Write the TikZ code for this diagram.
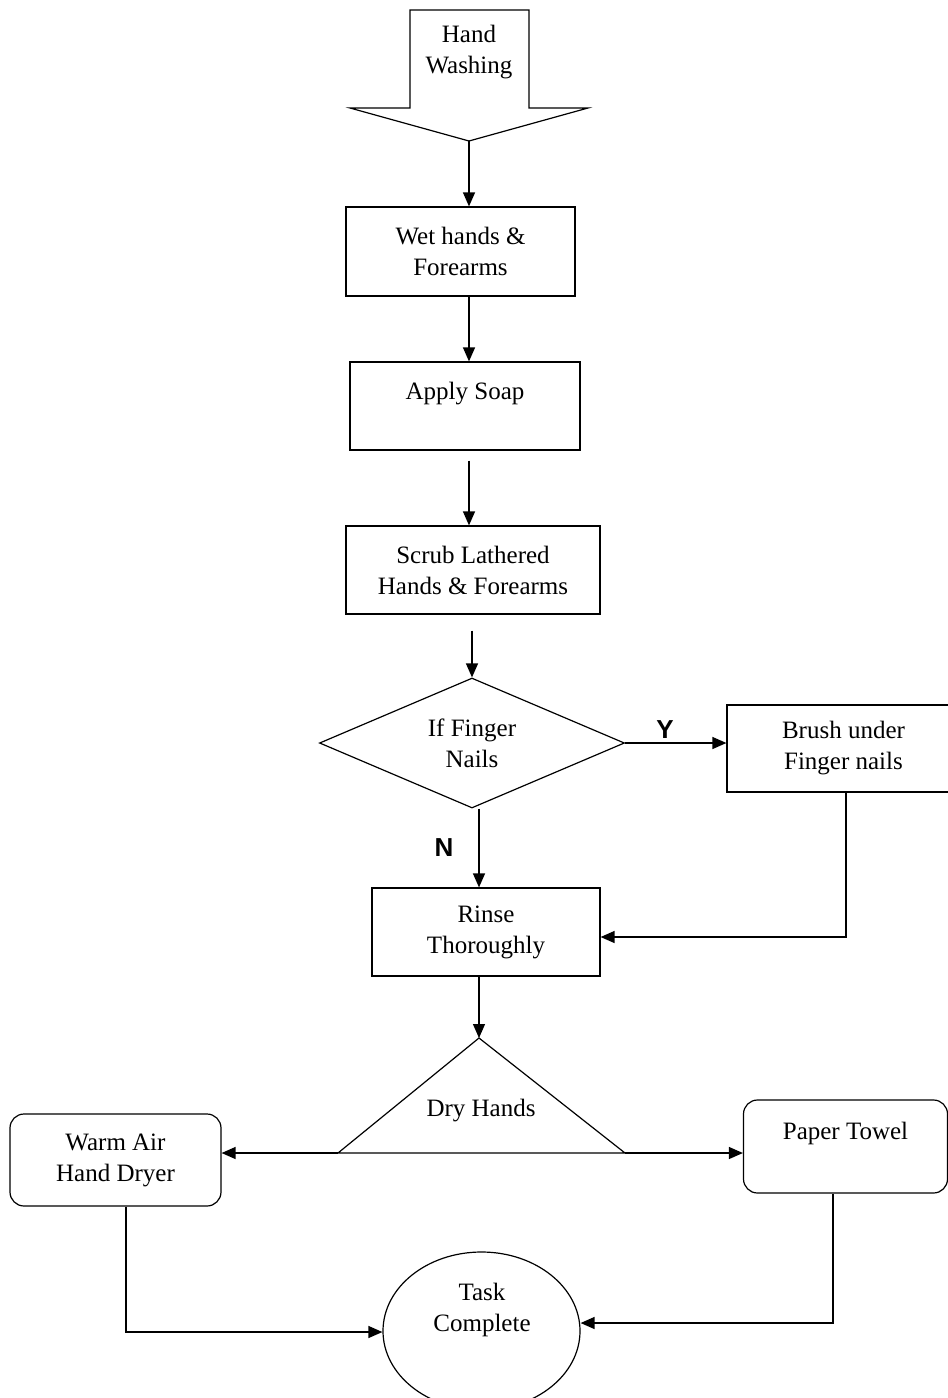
\documentclass[tikz,border=0pt]{standalone}
\usepackage{fontspec}
\setmainfont{Liberation Serif}
\newfontfamily\yn{Liberation Sans}
\usetikzlibrary{arrows.meta,shapes.geometric,calc}
\begin{document}
\begin{tikzpicture}[x=1pt,y=-1pt,
  every node/.style={font=\fontsize{25}{31}\selectfont, align=center, inner sep=0pt},
  shp/.style={draw, line width=1.2pt},
  boxr/.style={shp, rectangle},
  rbox/.style={shp, rectangle, rounded corners=14pt},
  arr/.style={line width=1.3pt, -{Triangle[length=14pt,width=12pt]}},
  ynlab/.style={font=\yn\bfseries\fontsize{26}{30}\selectfont}]
\clip (0,0) rectangle (948,1398);
\useasboundingbox (0,0) rectangle (948,1398);
% start block arrow
\draw[shp, line join=miter] (410,10) -- (529,10) -- (529,108) -- (588,108) -- (469,141) -- (350,108) -- (410,108) -- cycle;
\node (hw) at (469,52) {Hand\\Washing};
\coordinate (hwtip) at (469,141);
% boxes
\node[boxr, minimum width=229pt, minimum height=89pt] (wet) at (460.5,251.5) {Wet hands \&\\Forearms};
\node[boxr, minimum width=230pt, minimum height=88pt] (soap) at (465,406) {Apply Soap\\~};
\node[boxr, minimum width=254pt, minimum height=88pt] (scrub) at (473,570) {Scrub Lathered\\Hands \& Forearms};
\node[shp, diamond, aspect=2.35, minimum width=305pt, minimum height=130pt] (nails) at (472,743) {If Finger\\Nails};
\node[boxr, minimum width=233pt, minimum height=87pt] (brush) at (843.5,748.5) {Brush under\\Finger nails};
\node[boxr, minimum width=228pt, minimum height=88pt] (rinse) at (486,932) {Rinse\\Thoroughly};
% triangle
\coordinate (tapex) at (479,1038);
\coordinate (tleft) at (338,1153);
\coordinate (tright) at (625,1153);
\draw[shp, line join=miter] (tapex) -- (tright) -- (tleft) -- cycle;
\node (dry) at (481,1111) {Dry Hands};
\node[rbox, minimum width=211pt, minimum height=92pt] (warm) at (115.5,1160) {Warm Air\\Hand Dryer};
\node[rbox, minimum width=204pt, minimum height=93pt] (paper) at (845.5,1146.5) {Paper Towel\\~};
\node[shp, ellipse, minimum width=197pt, minimum height=158pt] (task) at (481.5,1331) {};
\node (tasktxt) at (482,1310) {Task\\Complete};
% labels
\node[ynlab] (ylab) at (665,730) {Y};
\node[ynlab] (nlab) at (444,848) {N};
% connectors
\draw[arr] (hwtip) -- (hwtip |- wet.north);
\draw[arr] (wet.south -| hwtip) -- (soap.north -| hwtip);
\draw[arr, shorten <=10pt] (soap.south -| hwtip) -- (scrub.north -| hwtip);
\draw[arr, shorten <=16pt] (scrub.south -| nails.north) -- (nails.north);
\draw[arr] (nails.east) -- (nails.east -| brush.west);
\coordinate (nstart) at ($(nails.south)+(7,0)$);
\draw[arr] (nstart) -- (nstart |- rinse.north);
\coordinate (bstart) at ($(brush.south)+(2.5,0)$);
\coordinate (rin) at ($(rinse.east)+(0,5)$);
\draw[arr] (bstart) |- (rin);
\coordinate (rstart) at (rinse.south -| tapex);
\draw[arr] (rstart) -- (tapex);
\draw[arr] (tleft) -- (tleft -| warm.east);
\draw[arr] (tright) -- (tright -| paper.west);
\coordinate (wstart) at ($(warm.south)+(10.5,0)$);
\coordinate (tin) at ($(task.west)+(0,1)$);
\draw[arr] (wstart) |- (tin);
\coordinate (pstart) at ($(paper.south)+(-12.5,0)$);
\coordinate (tin2) at ($(task.east)+(0,-8)$);
\draw[arr] (pstart) |- (tin2);
\end{tikzpicture}
\end{document}
